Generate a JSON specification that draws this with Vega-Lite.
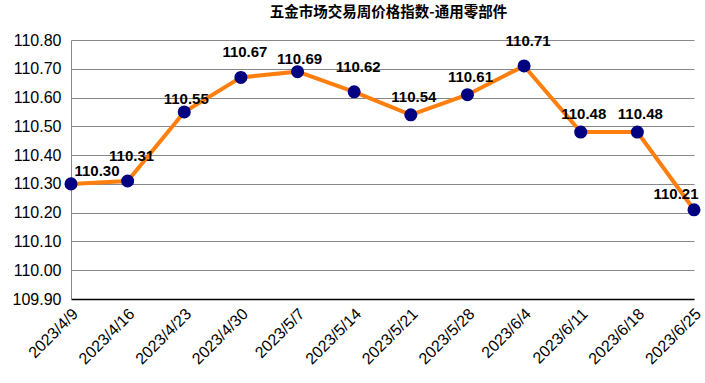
{
  "$schema": "https://vega.github.io/schema/vega-lite/v6.json",
  "autosize": "none",
  "width": 623,
  "height": 259,
  "padding": {"left": 71, "top": 40, "right": 11, "bottom": 84},
  "background": "white",
  "title": {"text": "五金市场交易周价格指数-通用零部件", "font": "Noto Sans CJK SC", "fontSize": 14.5, "fontWeight": "bold", "color": "#000000", "anchor": "middle", "offset": 12, "dx": 6},
  "data": {"values": [
    {"date": "2023/4/9", "value": 110.30},
    {"date": "2023/4/16", "value": 110.31},
    {"date": "2023/4/23", "value": 110.55},
    {"date": "2023/4/30", "value": 110.67},
    {"date": "2023/5/7", "value": 110.69},
    {"date": "2023/5/14", "value": 110.62},
    {"date": "2023/5/21", "value": 110.54},
    {"date": "2023/5/28", "value": 110.61},
    {"date": "2023/6/4", "value": 110.71},
    {"date": "2023/6/11", "value": 110.48},
    {"date": "2023/6/18", "value": 110.48},
    {"date": "2023/6/25", "value": 110.21}
  ]},
  "encoding": {
    "x": {"field": "date", "type": "ordinal", "sort": null,
      "scale": {"type": "point", "padding": 0},
      "axis": {"title": null, "labelAngle": -45, "labelAlign": "right", "labelBaseline": "middle", "labelFont": "Liberation Sans", "labelFontSize": 16, "labelColor": "#000000", "labelPadding": 12, "labelOffset": 4, "ticks": false, "domainColor": "#000000", "domainWidth": 1.5, "grid": false}},
    "y": {"field": "value", "type": "quantitative",
      "scale": {"domain": [109.9, 110.8], "zero": false, "nice": false},
      "axis": {"title": null, "values": [109.9, 110.0, 110.1, 110.2, 110.3, 110.4, 110.5, 110.6, 110.7, 110.8], "format": ".2f", "labelFont": "Liberation Sans", "labelFontSize": 16, "labelColor": "#000000", "labelPadding": 10, "ticks": false, "domainColor": "#888888", "grid": true, "gridColor": "#888888", "gridWidth": 1}}
  },
  "layer": [
    {"mark": {"type": "line", "color": "#FF7F0E", "strokeWidth": 4}},
    {"mark": {"type": "point", "filled": true, "color": "#000080", "size": 170, "opacity": 1}},
    {"transform": [{"filter": "indexof(['2023/5/21','2023/5/28','2023/6/11','2023/6/18'], datum.date) >= 0"}],
     "mark": {"type": "text", "font": "Liberation Sans", "fontSize": 15, "fontWeight": "bold", "color": "#000000", "dy": -18, "dx": 3},
     "encoding": {"text": {"field": "value", "type": "quantitative", "format": ".2f"}}},
    {"transform": [{"filter": "indexof(['2023/4/16','2023/4/30','2023/5/14','2023/6/4'], datum.date) >= 0"}],
     "mark": {"type": "text", "font": "Liberation Sans", "fontSize": 15, "fontWeight": "bold", "color": "#000000", "dy": -25, "dx": 4},
     "encoding": {"text": {"field": "value", "type": "quantitative", "format": ".2f"}}},
    {"transform": [{"filter": "indexof(['2023/4/23','2023/5/7'], datum.date) >= 0"}],
     "mark": {"type": "text", "font": "Liberation Sans", "fontSize": 15, "fontWeight": "bold", "color": "#000000", "dy": -13, "dx": 2},
     "encoding": {"text": {"field": "value", "type": "quantitative", "format": ".2f"}}},
    {"transform": [{"filter": "datum.date == '2023/4/9'"}],
     "mark": {"type": "text", "font": "Liberation Sans", "fontSize": 15, "fontWeight": "bold", "color": "#000000", "dy": -13, "dx": 26},
     "encoding": {"text": {"field": "value", "type": "quantitative", "format": ".2f"}}},
    {"transform": [{"filter": "datum.date == '2023/6/25'"}],
     "mark": {"type": "text", "font": "Liberation Sans", "fontSize": 15, "fontWeight": "bold", "color": "#000000", "dy": -16, "dx": -18},
     "encoding": {"text": {"field": "value", "type": "quantitative", "format": ".2f"}}}
  ],
  "config": {"view": {"stroke": null}}
}
